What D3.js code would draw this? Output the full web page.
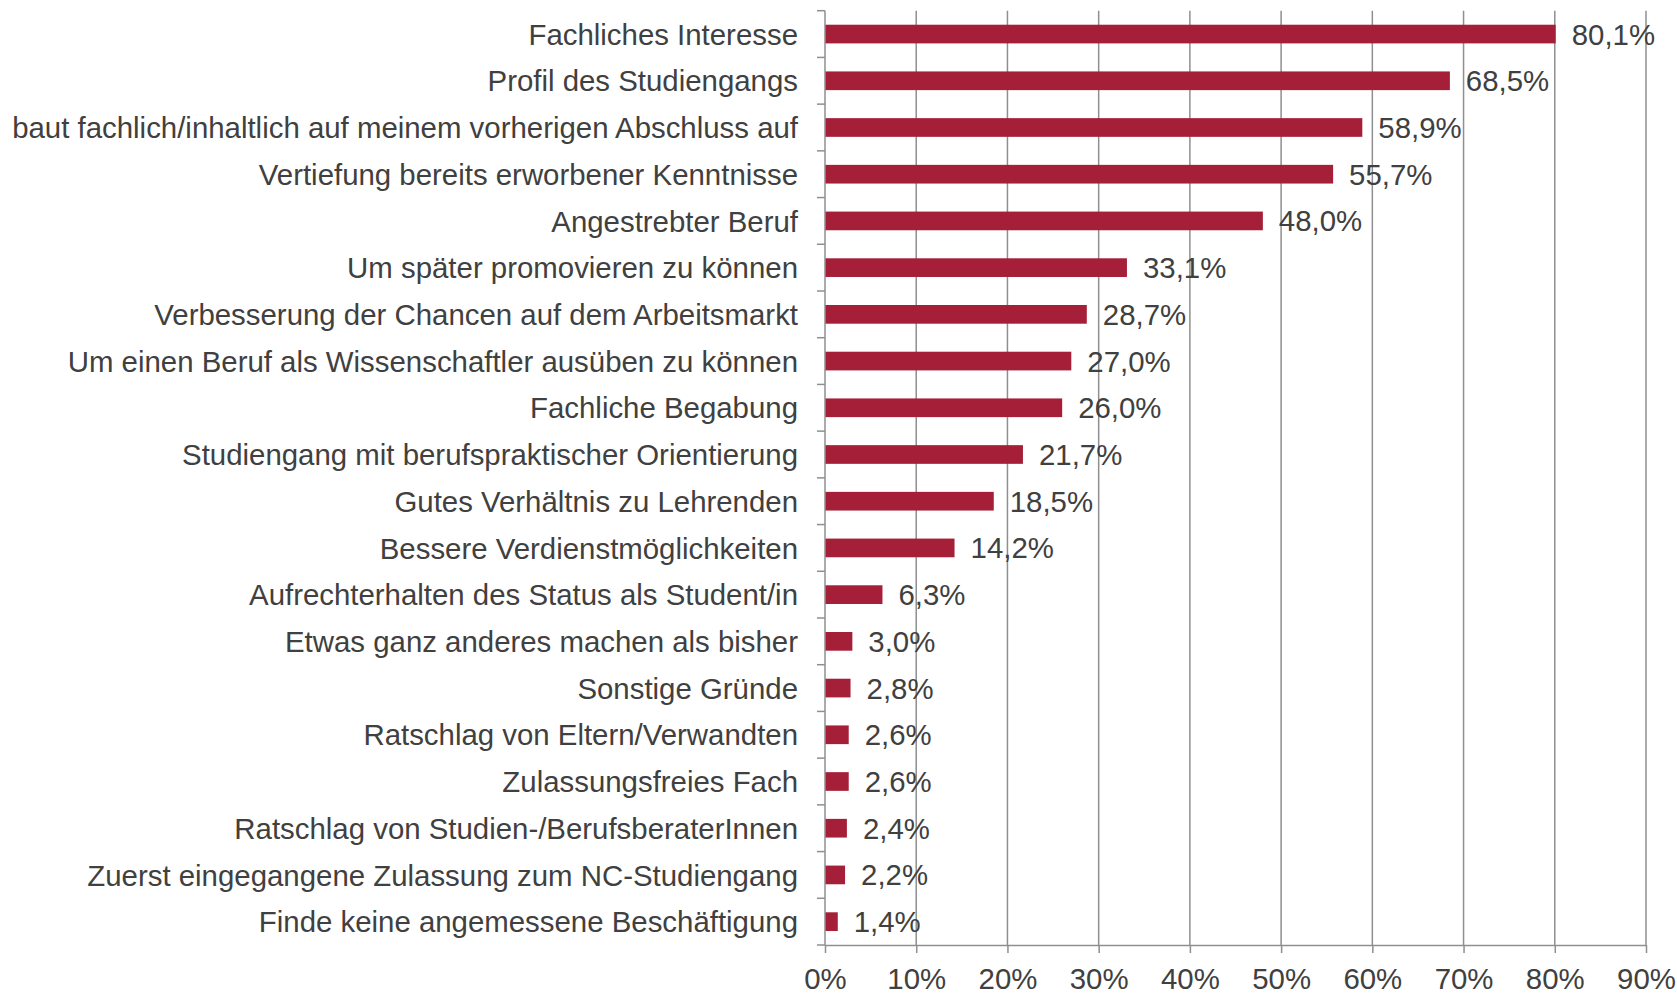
<!DOCTYPE html>
<html>
<head>
<meta charset="utf-8">
<script src="https://cdn.jsdelivr.net/npm/d3@7"></script>
<style>
    html, body { margin: 0; padding: 0; background: #fff; }
    svg { display: block; font-family: "Liberation Sans", Arimo, Arial, Helvetica, sans-serif; }
</style>
</head>
<body>
<div id="viz"></div>
<script>
const categories = [
    'Fachliches Interesse',
    'Profil des Studiengangs',
    'baut fachlich/inhaltlich auf meinem vorherigen Abschluss auf',
    'Vertiefung bereits erworbener Kenntnisse',
    'Angestrebter Beruf',
    'Um später promovieren zu können',
    'Verbesserung der Chancen auf dem Arbeitsmarkt',
    'Um einen Beruf als Wissenschaftler ausüben zu können',
    'Fachliche Begabung',
    'Studiengang mit berufspraktischer Orientierung',
    'Gutes Verhältnis zu Lehrenden',
    'Bessere Verdienstmöglichkeiten',
    'Aufrechterhalten des Status als Student/in',
    'Etwas ganz anderes machen als bisher',
    'Sonstige Gründe',
    'Ratschlag von Eltern/Verwandten',
    'Zulassungsfreies Fach',
    'Ratschlag von Studien-/BerufsberaterInnen',
    'Zuerst eingegangene Zulassung zum NC-Studiengang',
    'Finde keine angemessene Beschäftigung'
];

const values = [80.1, 68.5, 58.9, 55.7, 48.0, 33.1, 28.7, 27.0, 26.0, 21.7,
    18.5, 14.2, 6.3, 3.0, 2.8, 2.6, 2.6, 2.4, 2.2, 1.4];

const xTicks = [0, 10, 20, 30, 40, 50, 60, 70, 80, 90];

const width = 1677,
    height = 993,
    margin = { top: 10.7, right: 31, bottom: 48, left: 825 },
    barColor = '#a51f38',
    lineColor = '#8f8f8f',
    textColor = '#404040',
    fontSize = 29.4;

const rows = categories.map((c, i) => ({ name: c, value: values[i] }));

const svg = d3.select('#viz').append('svg')
    .attr('width', width)
    .attr('height', height);

const plotW = width - margin.left - margin.right,
    plotH = height - margin.top - margin.bottom;

const x = d3.scaleLinear().domain([0, 90]).range([0, plotW]);
const y = d3.scaleBand().domain(categories).range([0, plotH])
    .paddingInner(0.6)
    .paddingOuter(0.3);

const g = svg.append('g')
    .attr('transform', `translate(${margin.left},${margin.top})`);

// vertical gridlines
g.append('g').selectAll('line')
    .data(xTicks.slice(1))
    .join('line')
    .attr('x1', d => x(d))
    .attr('x2', d => x(d))
    .attr('y1', 0)
    .attr('y2', plotH)
    .attr('stroke', lineColor)
    .attr('stroke-width', 1.5);

// bars
g.append('g').selectAll('rect')
    .data(rows)
    .join('rect')
    .attr('x', 0)
    .attr('y', d => y(d.name))
    .attr('width', d => x(d.value))
    .attr('height', y.bandwidth())
    .attr('fill', barColor);

// value labels
const fmt = v => v.toFixed(1).replace('.', ',') + '%';
g.append('g').selectAll('text')
    .data(rows)
    .join('text')
    .attr('x', d => x(d.value) + 16)
    .attr('y', d => y(d.name) + y.bandwidth() / 2)
    .attr('dy', '0.36em')
    .attr('fill', textColor)
    .style('font-size', fontSize + 'px')
    .text(d => fmt(d.value));

// category axis
const yAxis = g.append('g')
    .call(d3.axisLeft(y).tickSize(0).tickPadding(27));
yAxis.select('.domain').remove();
yAxis.selectAll('text')
    .attr('fill', textColor)
    .attr('dy', '0.36em')
    .style('font-size', fontSize + 'px');

// category boundary ticks
const bounds = d3.range(categories.length + 1).map(i => i * y.step());
g.append('g').selectAll('line')
    .data(bounds)
    .join('line')
    .attr('x1', -8)
    .attr('x2', 0)
    .attr('y1', d => d)
    .attr('y2', d => d)
    .attr('stroke', lineColor)
    .attr('stroke-width', 1.5);

g.append('line')
    .attr('x1', 0).attr('x2', 0)
    .attr('y1', 0).attr('y2', plotH)
    .attr('stroke', lineColor)
    .attr('stroke-width', 1.5);

// value axis
const xAxis = g.append('g')
    .attr('transform', `translate(0,${plotH})`)
    .call(d3.axisBottom(x)
        .tickValues(xTicks)
        .tickSize(8)
        .tickSizeOuter(0)
        .tickPadding(15)
        .tickFormat(d => d + '%'));
xAxis.select('.domain')
    .attr('stroke', lineColor)
    .attr('stroke-width', 1.5);
xAxis.selectAll('.tick line')
    .attr('stroke', lineColor)
    .attr('stroke-width', 1.5);
xAxis.selectAll('text')
    .attr('fill', textColor)
    .style('font-size', fontSize + 'px');
</script>
</body>
</html>
